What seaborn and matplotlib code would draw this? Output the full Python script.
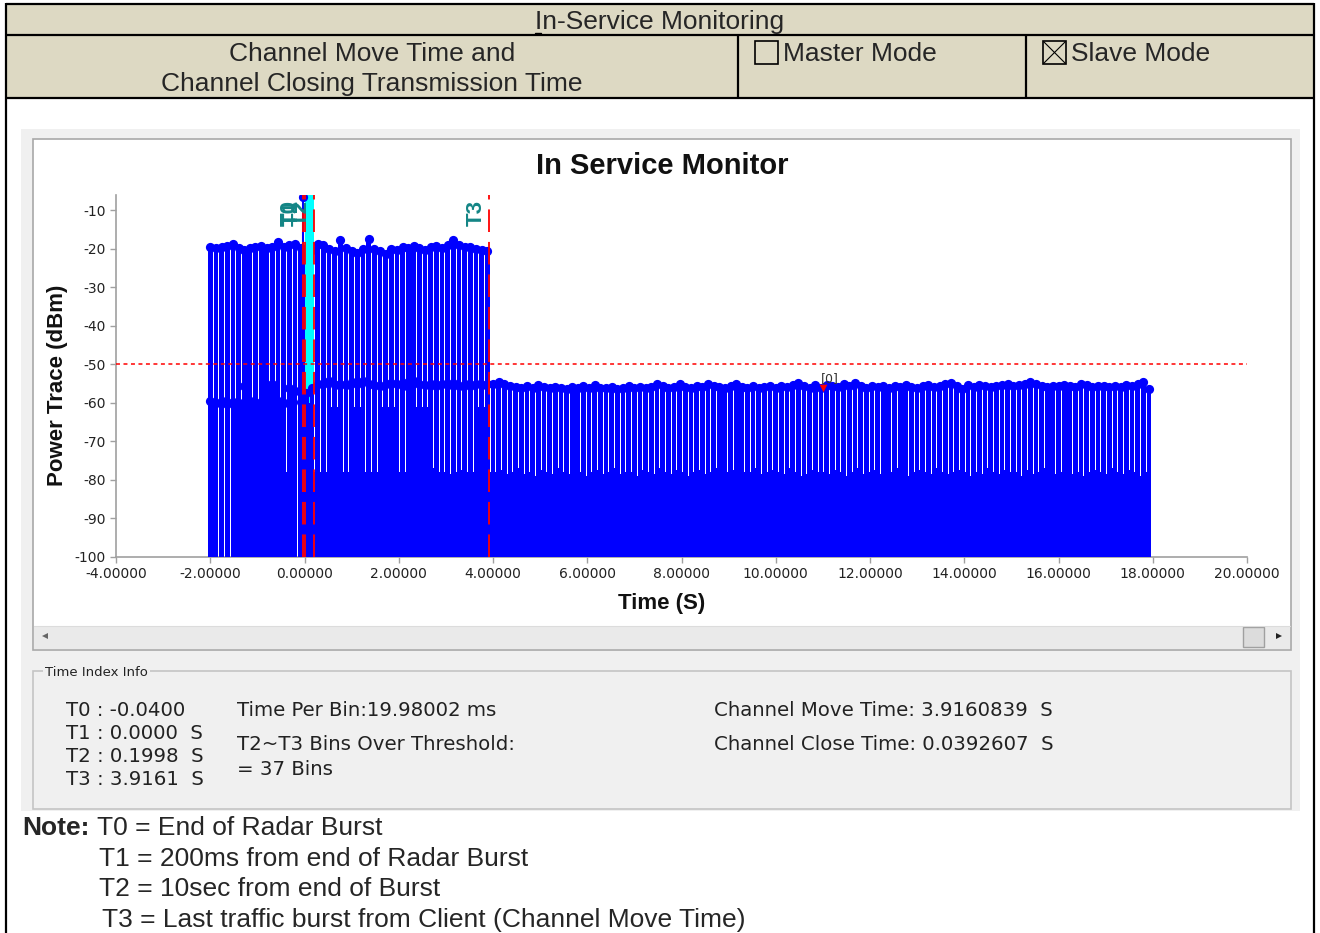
import numpy as np
import matplotlib
matplotlib.use('Agg')
import matplotlib.pyplot as plt
from matplotlib.patches import Rectangle
import seaborn as sns


# values
TIME_PER_BIN_MS = 19.98002
TRACE_START = -2.0          # first plotted group (s)
GROUP_STEP = 0.12           # spacing of the visible stem groups (s)
THRESHOLD_DBM = -50
TRAFFIC_BASE = -60

t_names = ['T0', 'T1', 'T2', 'T3']
t_times = [-0.0400, 0.0000, 0.1998, 3.9161]

# client traffic burst levels, -2 s .. T3
traffic_top = [
    -19.5, -19.8, -19.6, -19.3, -18.8, -19.8, -20.2, -19.7, -19.4, -19.2,
    -19.8, -19.6, -18.3, -19.5, -19.0, -18.6, -19.8, -20.5, -20.3, -18.8,
    -19.0, -20.0, -20.6, -17.8, -19.8, -20.6, -21.0, -20.0, -17.3, -20.0,
    -20.6, -21.2, -20.0, -20.3, -19.6, -19.8, -19.2, -19.8, -20.2, -19.6,
    -19.2, -19.8, -19.0, -17.8, -19.0, -19.4, -19.6, -20.0, -20.4, -20.6,
]

# monitor trace level per group, -2 s .. 18 s
noise_top = [
    -59.5, -60.0, -59.6, -60.2, -59.8, -60.0, -55.5, -59.4, -59.8, -60.0,
    -55.6, -55.2, -59.6, -60.0, -56.0, -57.0, -59.8,
    -57.5, -56.0, -55.2, -55.0, -54.4, -55.3, -55.0, -55.4, -54.6, -55.2,
    -54.2, -55.0, -55.3, -55.6, -55.0, -54.8, -55.2, -55.5, -54.6, -54.2,
    -55.0, -55.4, -55.2, -55.6, -55.0, -55.3, -54.8, -55.5, -55.2, -55.6,
    -55.0, -55.3, -55.1,
    -55.0, -54.5, -55.2, -55.6, -55.8, -56.0, -55.7, -56.1, -55.4, -55.9,
    -56.2, -55.8, -56.0, -56.3, -55.9, -56.1, -55.7, -56.2, -55.3, -56.0,
    -56.2, -55.9, -56.4, -56.0, -55.6, -56.1, -55.8, -56.2, -55.9, -55.1,
    -55.6, -56.0, -55.8, -55.2, -55.9, -56.1, -55.7, -55.9, -55.0, -55.6,
    -55.8, -56.0, -55.5, -55.2, -55.9, -56.1, -55.7, -56.0, -55.8, -55.6,
    -56.0, -55.7, -55.9, -55.3, -54.9, -55.6, -56.0, -55.4, -56.2, -55.3,
    -55.6, -55.8, -55.2, -55.5, -54.9, -55.7, -56.0, -55.6, -55.9, -55.7,
    -56.0, -55.6, -55.8, -55.4, -55.9, -56.0, -55.6, -55.3, -55.8, -55.5,
    -55.2, -54.9, -55.6, -56.5, -55.4, -55.8, -55.3, -55.6, -55.9, -55.5,
    -55.4, -55.2, -55.6, -55.3, -55.0, -54.6, -55.2, -55.6, -55.8, -55.5,
    -55.7, -55.3, -55.6, -55.9, -55.0, -55.4, -55.8, -55.6, -55.5, -55.9,
    -55.6, -55.8, -55.4, -55.7, -55.2, -54.6, -56.3,
]

# level of the low bin between two groups
noise_gap = [
    -60, -100, -100, -100, -60, -60, -55.5, -60, -60, -60,
    -55.5, -55, -60, -78, -57, -100, -60,
    -60, -78, -78, -78, -61, -61, -78, -78, -61, -61,
    -78, -78, -78, -61, -61, -61, -78, -78, -78.5, -61,
    -61, -61, -77, -78, -78, -78.5, -78, -77.5, -78, -78,
    -61, -61, -78,
    -78, -77.5, -78.5, -78, -77, -78.5, -78, -79, -77.5, -78,
    -78.5, -77, -78, -78.5, -77.5, -78, -79, -78, -77.5, -78.5,
    -78, -77, -78.5, -78, -78, -79, -77.5, -78, -78.5, -77,
    -78, -78.5, -77.5, -78, -79, -78, -77.5, -78.5, -78, -77,
    -78.5, -78, -77.5, -79, -78, -78, -77, -78.5, -78, -77.5,
    -78, -78.5, -77, -78, -79, -78.5, -77.5, -78, -78, -78.5,
    -77.5, -78, -79, -78, -77, -78.5, -78, -77.5, -78.5, -78,
    -78, -77, -78.5, -79, -78, -77.5, -78, -78.5, -77, -78,
    -78.5, -78, -77.5, -78, -79, -78, -78.5, -77, -78, -78.5,
    -77.5, -78, -78, -79, -77.5, -78.5, -78, -77, -78, -78.5,
    -78, -77.5, -78.5, -78, -79, -78, -77.5, -78, -78.5, -77,
    -78, -78.5, -77.5, -78, -79, -78,
]

radar_t = [-0.04]
radar_v = [-6.6]
marker_t = [11.0]
marker_v = [-56.2]

x_ticks = [-4, -2, 0, 2, 4, 6, 8, 10, 12, 14, 16, 18, 20]
y_ticks = [-100, -90, -80, -70, -60, -50, -40, -30, -20, -10]

info_left = ['T0 : -0.0400', 'T1 : 0.0000  S', 'T2 : 0.1998  S', 'T3 : 3.9161  S']
notes = ['T1 = 200ms from end of Radar Burst',
         'T2 = 10sec from end of Burst',
         'T3 = Last traffic burst from Client (Channel Move Time)']

BLUE = '#0000FF'
BEIGE = '#DDD9C3'
PANEL = '#F0F0F0'
W, H = 1320, 933

sns.set_theme(style='white')
plt.rcParams['font.family'] = ['Liberation Sans', 'DejaVu Sans']

fig = plt.figure(figsize=(W / 100, H / 100), dpi=100)

# page / screenshot frame, in pixel coordinates
bg = fig.add_axes([0, 0, 1, 1])
bg.set_xlim(0, W)
bg.set_ylim(H, 0)
bg.axis('off')

bg.add_patch(Rectangle((7, 5), 1306, 92, fc=BEIGE, ec='none'))
bg.add_patch(Rectangle((21, 129), 1279, 682, fc=PANEL, ec='none'))
bg.add_patch(Rectangle((33, 139), 1258, 511, fc='white', ec='#A8A8A8', lw=1.2))
bg.add_patch(Rectangle((34, 626), 1256, 23, fc='#EAEAEA', ec='none'))
bg.plot([34, 1290], [626, 626], color='#DCDCDC', lw=0.8)
bg.add_patch(Rectangle((1243, 627), 21, 20, fc='#DCDCDC', ec='#A0A0A0', lw=1))
bg.plot([45], [636], marker='<', color='#666666', ms=4, mew=0)
bg.plot([1279], [636], marker='>', color='#222222', ms=5, mew=0)
bg.add_patch(Rectangle((33, 671), 1258, 138, fc='none', ec='#C4C4C4', lw=1.2))
bg.text(45, 676, 'Time Index Info', fontsize=9.5, family='DejaVu Sans', color='#222222',
        va='baseline', bbox=dict(fc=PANEL, ec='none', pad=1.5))

for xs, ys in [([6, 6], [3, 933]), ([1314, 1314], [3, 933]), ([6, 1314], [4, 4]),
               ([6, 1314], [35, 35]), ([6, 1314], [97.5, 97.5]),
               ([738, 738], [35, 97]), ([1026, 1026], [35, 97])]:
    bg.plot(xs, ys, color='black', lw=1.6, solid_capstyle='butt')

bg.text(660, 29, 'In-Service Monitoring', ha='center', va='baseline', fontsize=19)
bg.plot([535, 541], [33, 33], color='black', lw=1)
bg.text(372, 61, 'Channel Move Time and', ha='center', va='baseline', fontsize=19)
bg.text(372, 91, 'Channel Closing Transmission Time', ha='center', va='baseline', fontsize=19)
bg.add_patch(Rectangle((755, 41), 23, 23, fc='none', ec='black', lw=1.2))
bg.text(783, 61, 'Master Mode', va='baseline', fontsize=19)
bg.add_patch(Rectangle((1043, 41), 23, 23, fc='none', ec='black', lw=1.2))
bg.plot([1044, 1065], [42, 63], color='black', lw=0.8)
bg.plot([1044, 1065], [63, 42], color='black', lw=0.8)
bg.text(1071, 61, 'Slave Mode', va='baseline', fontsize=19)

info_kw = dict(fontsize=14.2, family='DejaVu Sans', color='#222222', va='baseline')
for k, line in enumerate(info_left):
    bg.text(66, 716 + 23 * k, line, **info_kw)
bg.text(237, 716, f'Time Per Bin:{TIME_PER_BIN_MS:.5f} ms', **info_kw)
bg.text(237, 750, 'T2~T3 Bins Over Threshold:', **info_kw)
bg.text(237, 775, '= 37 Bins', **info_kw)
bg.text(714, 716, 'Channel Move Time: 3.9160839  S', **info_kw)
bg.text(714, 750, 'Channel Close Time: 0.0392607  S', **info_kw)

bg.text(22, 835, 'Note:', fontsize=19, fontweight='bold', va='baseline')
bg.text(97, 835, 'T0 = End of Radar Burst', fontsize=19, va='baseline')
for k, (x0, line) in enumerate(zip([99, 99, 102], notes)):
    bg.text(x0, 866 + 30.5 * k, line, fontsize=19, va='baseline')

# chart
ax = fig.add_axes([116 / W, 1 - 557 / H, (1247 - 116) / W, (557 - 195) / H])
ax.patch.set_facecolor('white')
ax.set_xlim(-4, 20)
ax.set_ylim(-100, -6)

traffic_t = TRACE_START + GROUP_STEP * np.arange(len(traffic_top))
noise_t = TRACE_START + GROUP_STEP * np.arange(len(noise_top))
gap_t = noise_t[:-1] + GROUP_STEP / 2
bar_w = 0.1
dot_s = 44

traffic_top = np.array(traffic_top)
noise_top = np.array(noise_top)
noise_gap = np.array(noise_gap)

ax.bar(traffic_t, traffic_top - TRAFFIC_BASE, bottom=TRAFFIC_BASE, width=bar_w,
       color=BLUE, linewidth=0, zorder=2)
sns.scatterplot(x=traffic_t, y=traffic_top, color=BLUE, s=dot_s, linewidth=0, ax=ax, zorder=2.1)

ax.axvspan(t_times[1], t_times[2], color='#00FFFF', lw=0, zorder=2.5)

ax.bar(noise_t, noise_top + 100, bottom=-100, width=bar_w, color=BLUE, linewidth=0, zorder=3)
ax.bar(gap_t, noise_gap + 100, bottom=-100, width=GROUP_STEP - bar_w + 0.006,
       color=BLUE, linewidth=0, zorder=3)
sns.scatterplot(x=noise_t, y=noise_top, color=BLUE, s=dot_s, linewidth=0, ax=ax, zorder=3.2)

ax.vlines(radar_t, -100, radar_v, color=BLUE, lw=1.5, zorder=3.3)
sns.scatterplot(x=radar_t, y=radar_v, color=BLUE, s=dot_s, linewidth=0, ax=ax, zorder=3.3)

ax.axhline(THRESHOLD_DBM, color='red', lw=1.1, ls=(0, (2.6, 2.3)), zorder=4)
for name, t in zip(t_names, t_times):
    ax.axvline(t, color='red', lw=1.3, ls=(0, (12.5, 5.5)), zorder=5)
    ax.annotate(name, xy=(t, 1), xycoords=('data', 'axes fraction'), xytext=(-1.5, -3.5),
                textcoords='offset points', rotation=90, ha='right', va='top',
                color='#138585', fontsize=16, fontweight='bold', zorder=6)

ax.scatter(marker_t, marker_v, marker='v', color='red', s=30, linewidth=0, zorder=6)
ax.annotate('[0]', xy=(marker_t[0], marker_v[0]), xytext=(5, 7), textcoords='offset points',
            ha='center', va='center', fontsize=9, family='DejaVu Sans', color='#333333', zorder=6)

ax.set_xticks(x_ticks)
ax.set_xticklabels([f'{v:.5f}' for v in x_ticks])
ax.set_yticks(y_ticks)
ax.set_yticklabels([str(v) for v in y_ticks])
ax.tick_params(bottom=True, left=True, direction='out', length=4.5, width=1,
               color='#A0A0A0', labelsize=10, labelcolor='#222222', pad=3)
plt.setp(ax.get_xticklabels() + ax.get_yticklabels(), family='DejaVu Sans')
for side in ['top', 'right']:
    ax.spines[side].set_visible(False)
for side in ['left', 'bottom']:
    ax.spines[side].set_color('#A0A0A0')
    ax.spines[side].set_linewidth(1.2)

ax.set_xlabel('Time (S)', fontsize=16, fontweight='bold', color='#111111')
ax.xaxis.set_label_coords((662 - 116) / 1131, (557 - 604) / 362)
ax.xaxis.label.set_va('center')
ax.set_ylabel('Power Trace (dBm)', fontsize=16, fontweight='bold', color='#111111')
ax.yaxis.set_label_coords((57 - 116) / 1131, (557 - 385) / 362)
ax.yaxis.label.set_va('center')
ax.set_title('In Service Monitor', x=(662 - 116) / 1131, y=(557 - 174) / 362, pad=0,
             fontsize=21, fontweight='bold', color='#111111')

fig.savefig('out.png', dpi=100)
